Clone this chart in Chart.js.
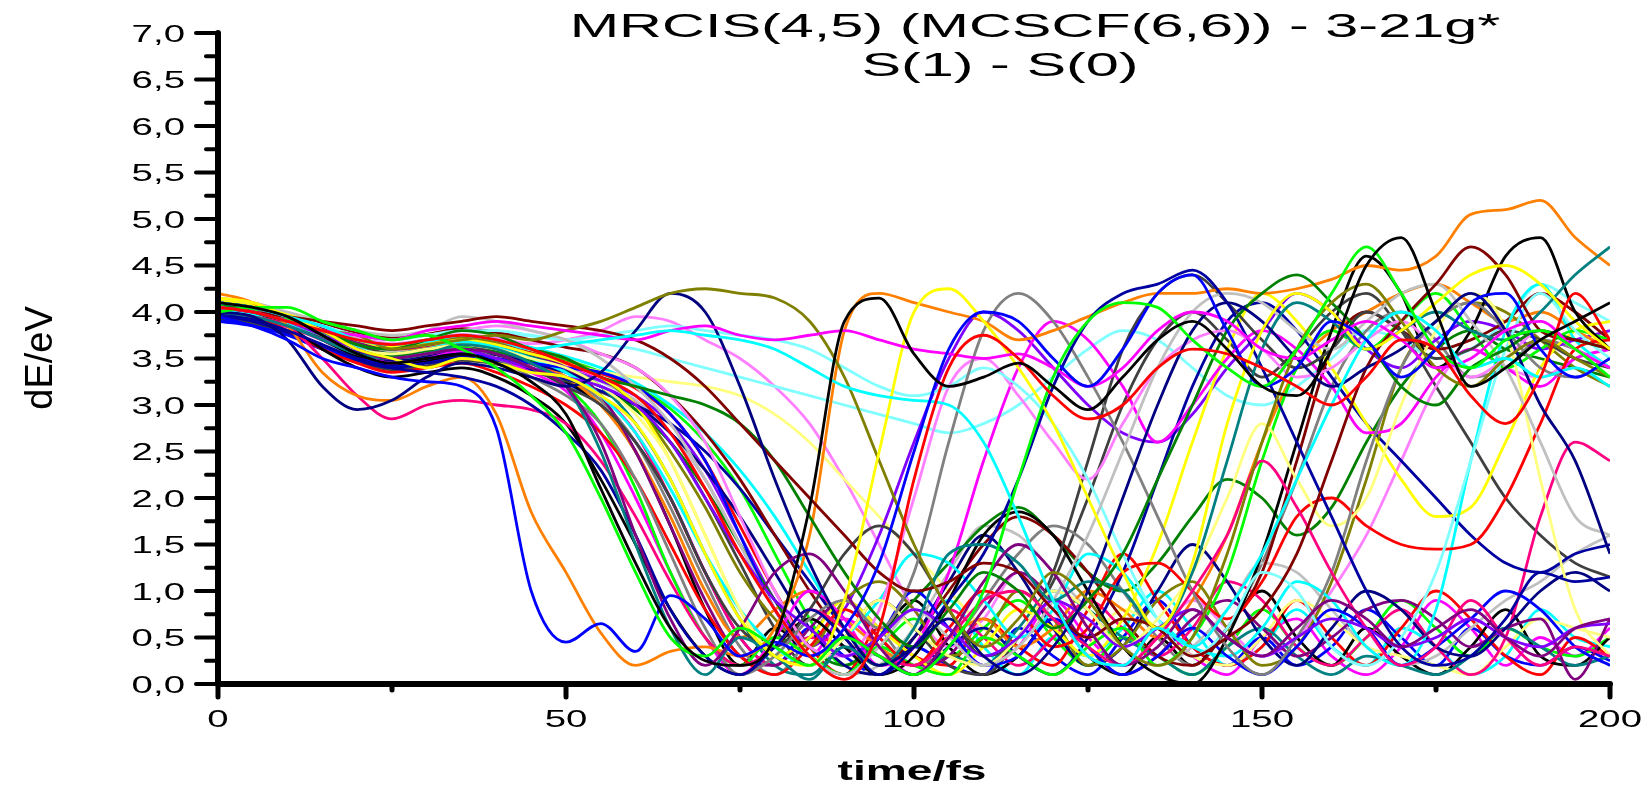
<!DOCTYPE html>
<html>
<head>
<meta charset="utf-8">
<script src="https://cdn.jsdelivr.net/npm/chart.js@4"></script>
<style>
  body { margin: 0; background: #fff; }
  #wrap { width: 1648px; height: 785px; }
</style>
</head>
<body>
<div id="wrap"><canvas id="myChart"></canvas></div>
<script>
// time axis (fs) shared by every trajectory
const timeFs = [0, 5, 10, 15, 20, 25, 30, 35, 40, 45,
    50, 55, 60, 65, 70, 75, 80, 85, 90, 95,
    100, 105, 110, 115, 120, 125, 130, 135, 140, 145,
    150, 155, 160, 165, 170, 175, 180, 185, 190, 195,
    200];

const yTickLabels = ['0,0', '0,5', '1,0', '1,5', '2,0', '2,5', '3,0', '3,5', '4,0', '4,5', '5,0', '5,5', '6,0', '6,5', '7,0'];
const xTickLabels = ['0', '50', '100', '150', '200'];

// S1-S0 gap (eV) of each trajectory
const traj01 = [4.10,4.05,3.95,3.75,3.55,3.45,3.50,3.55,3.45,3.25, 2.90,2.10,1.30,0.60,0.25,0.20,0.50,1.90,3.90,4.15, 3.55,3.20,3.30,3.45,3.20,2.95,3.30,3.70,3.90,3.60, 3.20,3.10,3.60,4.50,4.80,4.00,3.20,3.40,3.70,3.90, 4.10];
const traj02 = [4.05,4.00,3.90,3.80,3.70,3.65,3.70,3.75,3.70,3.60, 3.45,3.30,3.10,2.70,2.10,1.40,0.80,0.30,0.05,0.60, 2.20,3.40,3.75,3.50,3.10,2.85,3.00,3.40,3.60,3.55, 3.40,3.20,3.00,3.30,3.70,3.60,3.10,2.80,3.30,4.20, 3.70];
const traj03 = [4.00,4.05,4.05,3.90,3.80,3.70,3.75,3.60,3.40,3.10, 2.70,2.00,1.20,0.50,0.30,0.60,0.40,0.20,0.50,0.30, 0.10,0.40,1.00,2.20,3.30,3.90,4.10,4.05,3.70,3.40, 3.20,3.60,4.20,4.70,4.20,3.60,3.40,3.70,3.80,3.60, 3.30];
const traj04 = [3.95,3.85,3.70,3.50,3.40,3.30,3.25,3.20,2.75,1.00, 0.45,0.65,0.35,0.95,0.70,0.30,0.45,0.30,0.60,1.30, 2.50,3.60,4.00,3.90,3.50,3.20,3.60,4.20,4.40,3.80, 3.20,3.40,3.90,3.70,3.30,3.60,4.10,4.20,3.60,3.30, 3.50];
const traj05 = [4.10,4.05,3.95,3.85,3.70,3.65,3.70,3.75,3.70,3.60, 3.65,3.70,3.75,3.80,3.75,3.70,3.60,3.40,3.20,3.10, 3.05,3.00,2.60,1.80,0.90,0.30,0.20,0.60,0.40,0.80, 1.40,2.20,3.00,3.70,4.00,3.80,3.40,3.50,3.30,3.40, 3.20];
const traj06 = [4.05,4.00,3.90,3.80,3.75,3.70,3.80,3.85,3.90,3.85, 3.80,3.75,3.70,3.80,3.85,3.75,3.70,3.75,3.80,3.70, 3.60,3.55,3.50,3.55,3.40,3.20,3.40,3.80,4.00,3.90, 3.60,3.50,3.70,3.90,3.70,3.40,3.50,3.80,3.90,3.60, 3.40];
const traj07 = [4.15,4.10,3.95,3.80,3.60,3.50,3.40,3.50,3.45,3.35, 3.30,3.10,2.80,2.20,1.40,0.70,0.30,0.20,0.90,2.50, 4.00,4.25,3.90,3.40,2.80,2.00,1.20,0.60,1.30,2.80, 3.80,4.20,4.00,3.60,3.80,4.10,4.40,4.50,4.30,3.90, 3.60];
const traj08 = [4.05,4.00,3.90,3.80,3.75,3.60,3.65,3.70,3.75,3.70, 3.80,3.90,4.05,4.20,4.25,4.20,4.15,3.90,3.30,2.40, 1.50,0.80,0.40,0.70,1.20,0.90,0.40,0.20,0.50,1.40, 2.60,3.60,4.10,4.30,3.90,3.40,3.20,3.50,3.70,3.50, 3.30];
const traj09 = [4.00,3.95,3.70,3.20,2.95,3.05,3.30,3.45,3.40,3.30, 3.20,3.35,3.80,4.20,4.00,3.20,2.20,1.30,0.60,0.20, 0.40,0.70,0.30,0.10,0.40,1.00,2.00,3.00,3.80,4.10, 3.90,3.50,3.20,3.40,3.60,3.90,4.20,3.80,3.00,2.40, 1.40];
const traj10 = [4.10,4.05,3.95,3.80,3.60,3.50,3.55,3.60,3.55,3.40, 3.20,2.60,1.60,0.70,0.20,0.60,1.20,1.40,1.00,0.40, 0.10,0.50,1.10,1.50,1.20,0.60,0.20,0.40,0.80,0.50, 0.30,0.60,0.90,0.70,0.40,0.60,0.80,0.50,0.30,0.60, 0.70];
const traj11 = [4.05,4.00,3.95,3.90,3.85,3.80,3.85,3.90,3.95,3.90, 3.85,3.80,3.70,3.50,3.20,2.80,2.40,2.00,1.60,1.20, 1.00,1.10,1.30,1.20,0.80,0.50,0.70,0.60,0.30,0.50, 0.80,1.40,2.40,3.40,3.90,4.30,4.70,4.40,3.80,3.70, 3.60];
const traj12 = [4.10,4.00,3.90,3.80,3.65,3.60,3.70,3.80,3.75,3.60, 3.50,3.30,3.20,3.10,3.00,2.80,2.40,1.80,1.20,0.70, 0.40,0.80,1.20,1.00,0.60,0.90,1.40,2.20,3.00,3.80, 4.20,4.40,4.10,3.70,3.20,3.00,3.40,3.60,3.80,3.70, 3.60];
const traj13 = [4.00,3.95,3.85,3.70,3.55,3.50,3.55,3.65,3.60,3.45, 3.20,2.50,1.50,0.60,0.10,0.50,0.30,0.05,0.40,0.20, 0.60,1.40,1.50,1.30,0.90,1.10,1.00,0.60,1.20,2.40, 3.60,4.10,3.90,3.60,3.80,4.00,3.80,3.70,4.00,4.40, 4.70];
const traj14 = [3.98,3.92,3.80,3.65,3.50,3.40,3.35,3.30,3.20,3.00, 2.70,2.30,1.60,0.80,0.30,0.10,0.40,0.80,0.50,0.10, 0.40,0.90,1.40,2.20,3.20,3.90,4.20,4.30,4.45,4.10, 3.40,2.60,1.80,1.00,0.40,0.20,0.30,0.70,1.20,1.10, 1.15];
const traj15 = [4.20,4.10,3.85,3.35,3.10,3.05,3.20,3.30,2.90,1.85, 1.20,0.55,0.20,0.35,0.40,0.30,0.60,1.60,3.80,4.20, 4.10,4.00,3.90,3.70,3.80,3.95,4.10,4.20,4.20,4.25, 4.20,4.25,4.35,4.50,4.45,4.60,5.05,5.10,5.20,4.80, 4.50];
const traj16 = [4.05,4.00,3.90,3.75,3.60,3.50,3.55,3.60,3.50,3.40, 3.30,3.20,3.00,2.60,2.00,1.40,0.90,0.60,0.30,0.50, 0.80,0.60,0.30,0.50,0.90,0.70,0.40,0.60,0.80,0.50, 0.30,0.50,0.70,0.60,0.40,0.50,0.70,0.50,0.40,0.60, 0.65];
const traj17 = [4.00,3.95,3.85,3.50,3.10,2.85,3.00,3.05,3.00,2.95, 2.80,2.40,1.80,1.10,0.50,0.20,0.40,0.80,0.60,0.30, 0.20,0.50,0.90,1.00,0.70,0.40,0.20,0.50,1.00,1.60, 2.40,1.90,1.20,0.60,0.20,0.40,0.90,0.50,0.20,0.40, 0.30];
const traj18 = [4.15,4.10,4.00,3.90,3.80,3.75,3.80,3.95,3.90,3.80, 3.70,3.50,3.20,2.80,2.20,1.50,0.80,0.30,0.10,0.40, 0.80,0.50,0.20,0.40,0.90,1.60,2.50,3.40,4.00,4.20, 4.10,3.80,3.60,3.90,4.20,4.30,3.90,3.40,2.60,1.80, 1.60];
const traj19 = [4.10,4.05,3.90,3.75,3.60,3.50,3.55,3.60,3.50,3.30, 3.10,2.80,2.20,1.40,0.60,0.10,0.30,0.70,0.90,0.60, 1.20,2.60,3.80,4.20,3.90,3.30,2.60,1.80,1.00,0.40, 0.10,0.50,1.20,2.40,3.40,3.90,4.10,3.80,3.40,3.30, 3.50];
const traj20 = [4.05,4.00,3.90,3.75,3.60,3.55,3.60,3.65,3.60,3.50, 3.40,3.20,2.90,2.40,1.60,0.80,0.30,0.20,0.50,0.90, 0.60,0.30,0.20,0.50,1.00,0.80,0.40,0.70,1.20,2.00, 2.80,2.20,1.70,2.00,3.00,3.80,4.20,3.80,2.20,0.80, 0.30];
const traj21 = [4.10,4.05,3.95,3.85,3.75,3.70,3.75,3.80,3.80,3.75, 3.70,3.75,3.80,3.85,3.80,3.75,3.70,3.60,3.40,3.20, 3.10,3.20,3.40,3.20,2.80,2.20,1.40,0.70,0.30,0.60, 1.20,1.00,0.40,0.20,0.50,1.20,2.40,3.60,4.20,3.80, 3.50];
const traj22 = [4.05,4.00,3.95,3.85,3.75,3.70,3.75,3.80,3.85,3.80, 3.70,3.55,3.40,3.10,2.60,1.80,1.00,0.40,0.30,0.80, 2.00,3.20,3.50,3.10,2.60,2.20,2.80,3.40,3.70,3.80, 3.60,3.30,3.40,3.70,3.90,3.60,3.30,3.50,3.80,3.60, 3.40];
const traj23 = [4.10,4.05,3.95,3.80,3.65,3.55,3.60,3.65,3.55,3.40, 3.20,3.00,2.60,2.00,1.20,0.60,0.40,0.80,1.40,1.70, 1.40,0.80,0.30,0.50,1.20,2.40,3.60,4.20,4.40,4.10, 3.70,3.40,3.60,4.00,3.80,3.50,3.60,3.80,3.70,3.50, 3.40];
const traj24 = [4.05,4.00,3.85,3.60,3.40,3.30,3.35,3.40,3.30,3.10, 2.80,2.20,1.50,0.80,0.30,0.10,0.40,0.70,0.40,0.10, 0.30,0.90,1.60,1.85,1.60,1.00,0.40,0.10,0.00,0.50, 1.40,2.60,3.80,4.60,4.20,3.40,3.80,4.60,4.80,4.00, 3.60];
const traj25 = [4.00,3.95,3.80,3.60,3.45,3.35,3.40,3.45,3.35,3.20, 3.00,2.70,2.20,1.50,0.80,0.30,0.10,0.40,0.80,0.50, 0.20,0.60,1.00,0.80,0.40,0.60,1.20,1.30,1.00,0.70, 1.10,1.80,2.00,1.70,1.50,1.45,1.50,2.00,2.80,3.60, 3.70];
const traj26 = [4.08,4.02,3.92,3.75,3.60,3.50,3.55,3.62,3.55,3.40, 3.20,2.80,2.10,1.20,0.50,0.20,0.50,0.30,0.10,0.40, 0.20,0.10,0.50,0.30,0.10,0.40,0.60,0.20,0.50,1.20, 2.40,3.40,3.80,3.60,3.90,4.20,3.80,3.40,3.60,3.80, 3.70];
const traj27 = [3.90,3.85,3.75,3.60,3.50,3.45,3.50,3.55,3.50,3.45, 3.40,3.35,3.20,2.90,2.40,1.60,0.80,0.30,0.10,0.50, 1.00,0.60,0.20,0.30,0.70,0.40,0.10,0.30,0.60,0.30, 0.10,0.40,0.80,0.60,0.20,0.40,0.70,1.00,0.80,0.40, 0.20];
const traj28 = [4.02,3.97,3.88,3.75,3.62,3.55,3.60,3.68,3.62,3.50, 3.35,3.10,2.70,2.10,1.40,0.80,0.40,0.20,0.50,0.90, 1.40,1.30,0.90,0.50,0.80,1.40,1.20,0.70,0.40,0.30, 0.60,1.10,0.90,0.40,0.20,0.80,2.40,3.80,4.30,3.70, 3.40];
const traj29 = [4.00,3.95,3.85,3.70,3.55,3.45,3.50,3.58,3.50,3.35, 3.15,2.70,2.00,1.20,0.50,0.10,0.50,1.00,0.70,0.20, 0.40,1.20,2.40,3.40,3.90,3.70,3.20,2.60,3.00,3.50, 3.80,3.60,3.20,2.70,2.80,3.30,3.60,3.40,3.20,3.50, 3.60];
const traj30 = [4.12,4.08,3.98,3.85,3.70,3.62,3.65,3.70,3.65,3.55, 3.45,3.30,3.00,2.40,1.60,0.80,0.30,0.50,0.90,0.60, 0.30,0.10,0.40,0.80,0.60,0.30,0.70,1.50,2.60,3.60, 4.20,3.90,3.40,2.80,2.20,1.80,1.90,2.60,3.40,3.80, 3.90];
const traj31 = [4.05,4.00,3.92,3.80,3.70,3.62,3.65,3.72,3.68,3.60, 3.50,3.30,3.00,2.50,1.90,1.20,0.70,0.40,0.90,1.10, 0.80,0.30,0.50,1.00,0.70,0.20,0.40,0.90,1.10,0.60, 0.20,0.40,1.10,2.20,3.40,3.90,4.10,4.00,3.70,3.40, 3.20];
const traj32 = [4.02,3.96,3.86,3.70,3.56,3.48,3.52,3.58,3.54,3.45, 3.35,3.20,3.00,2.70,2.30,1.80,1.20,0.60,0.20,0.10, 0.50,1.10,1.60,1.20,0.60,0.20,0.40,1.00,1.50,1.10, 0.50,0.20,0.60,1.00,0.80,0.40,0.30,0.60,1.00,1.20, 1.00];
const traj33 = [4.08,4.03,3.94,3.82,3.68,3.60,3.64,3.70,3.66,3.55, 3.40,3.10,2.50,1.70,0.90,0.30,0.20,0.60,0.90,0.50, 0.20,0.30,0.80,1.20,0.90,0.40,0.10,0.30,0.70,0.90, 0.60,0.30,0.50,0.80,0.90,0.70,0.40,0.60,0.70,0.05, 0.70];
const traj34 = [4.10,4.06,3.98,3.88,3.78,3.72,3.76,3.82,3.78,3.70, 3.62,3.55,3.40,3.10,2.70,2.20,1.60,1.00,0.50,0.20, 0.50,1.00,1.50,1.80,1.60,1.20,0.70,0.30,0.20,0.60, 1.20,2.40,3.60,4.00,3.80,3.60,3.70,3.90,4.20,4.00, 3.70];
const traj35 = [4.04,3.98,3.88,3.74,3.60,3.52,3.58,3.64,3.58,3.48, 3.36,3.20,2.95,2.60,2.10,1.50,0.90,0.40,0.20,0.50, 0.90,1.30,1.70,1.90,1.60,1.20,1.00,1.30,1.80,2.20, 2.00,1.60,1.90,2.60,3.20,3.60,3.80,3.60,3.50,3.40, 3.30];
const traj36 = [4.06,4.00,3.90,3.76,3.62,3.55,3.60,3.66,3.62,3.52, 3.40,3.20,2.80,2.20,1.40,0.70,0.20,0.10,0.40,0.30, 0.10,0.30,0.20,0.60,1.00,0.80,0.50,0.30,0.10,0.40, 0.60,0.30,0.10,0.30,0.20,0.10,0.30,0.60,0.40,0.20, 0.30];
const traj37 = [3.96,3.90,3.78,3.62,3.48,3.40,3.45,3.50,3.46,3.38, 3.28,3.15,3.00,2.80,2.50,2.10,1.60,1.10,0.60,0.30, 0.10,0.40,0.60,0.30,0.10,0.50,1.20,2.20,3.20,3.90, 4.10,3.80,3.30,2.80,2.40,2.00,1.60,1.30,1.20,1.40, 1.50];
const traj38 = [4.15,4.10,3.98,3.85,3.70,3.60,3.62,3.68,3.60,3.48, 3.30,3.00,2.50,1.80,1.00,0.50,0.80,1.00,0.70,0.40, 0.20,0.50,0.70,0.40,0.60,1.00,0.80,0.50,0.90,1.60, 2.60,3.40,3.80,4.00,4.20,4.30,4.10,3.90,4.00,3.80, 3.60];
const traj39 = [4.02,3.96,3.86,3.72,3.58,3.50,3.54,3.60,3.56,3.48, 3.38,3.26,3.10,2.80,2.30,1.60,0.90,0.40,0.80,1.60, 2.60,3.50,4.00,3.80,3.40,3.00,2.70,2.60,2.90,3.40, 3.80,4.20,4.00,3.60,3.40,3.70,3.90,3.80,3.60,3.70, 3.80];
const traj40 = [4.00,3.94,3.84,3.70,3.56,3.48,3.52,3.58,3.54,3.44, 3.30,3.10,2.70,2.00,1.20,0.50,0.20,0.50,0.40,0.10, 0.40,0.80,0.50,0.20,0.50,0.90,0.60,0.30,0.60,1.10, 0.90,0.40,0.20,0.50,0.80,0.40,0.10,0.50,1.80,2.60, 2.40];
const traj41 = [4.10,4.04,3.94,3.80,3.66,3.58,3.62,3.68,3.62,3.52, 3.40,3.25,3.05,2.70,2.20,1.50,0.80,0.30,0.10,0.20, 0.60,1.20,1.70,1.60,1.20,0.80,0.40,0.20,0.40,0.80, 1.30,1.20,0.80,0.40,0.20,0.30,0.60,0.90,1.10,1.40, 1.60];
const traj42 = [4.06,4.00,3.90,3.76,3.62,3.54,3.58,3.64,3.58,3.46, 3.30,3.05,2.60,1.90,1.10,0.40,0.10,0.50,0.90,0.60, 0.20,0.40,0.90,1.40,1.70,1.50,1.00,0.50,0.20,0.60, 1.30,2.20,3.20,3.80,4.00,3.70,3.30,3.40,3.70,3.60, 3.40];
const traj43 = [4.08,4.02,3.92,3.78,3.64,3.56,3.60,3.66,3.60,3.52, 3.44,3.36,3.30,3.25,3.20,3.10,2.90,2.60,2.20,1.80, 1.40,1.00,0.60,0.30,0.10,0.40,0.80,0.60,0.30,0.20, 0.50,0.90,0.70,0.40,0.30,0.20,0.10,0.40,0.70,0.60, 0.50];
const traj44 = [4.02,3.98,3.90,3.82,3.76,3.72,3.76,3.80,3.78,3.74, 3.70,3.66,3.60,3.50,3.40,3.30,3.20,3.10,3.00,2.90, 2.80,2.70,2.80,3.00,3.30,3.60,3.80,3.70,3.40,3.10, 3.00,3.20,3.50,3.80,3.70,3.50,3.60,3.90,4.30,4.10, 3.90];
const traj45 = [4.00,3.96,3.90,3.80,3.72,3.66,3.70,3.76,3.72,3.66, 3.70,3.80,3.95,3.90,3.70,3.50,3.20,2.80,2.20,1.50, 0.80,0.40,0.70,1.20,0.80,0.30,0.20,0.50,0.90,0.60, 0.30,0.50,1.00,1.60,2.40,3.20,3.60,3.40,3.30,3.50, 3.60];
const traj46 = [3.94,3.88,3.76,3.60,3.46,3.38,3.42,3.48,3.44,3.36, 3.26,3.14,2.95,2.60,2.00,1.30,0.60,0.20,0.50,0.90, 0.60,0.20,0.10,0.50,1.10,2.00,3.00,3.70,4.00,3.70, 3.30,3.60,4.00,4.20,3.80,3.20,2.60,2.00,1.60,1.30, 1.15];
const traj47 = [4.06,4.00,3.88,3.70,3.52,3.44,3.48,3.54,3.50,3.40, 3.25,3.00,2.50,1.70,0.80,0.20,0.60,0.30,0.10,0.50, 0.90,0.40,0.10,0.30,0.70,0.30,0.10,0.50,0.20,0.60, 1.00,0.50,0.20,0.60,0.30,0.10,0.40,0.80,0.30,0.20, 0.50];
const traj48 = [4.12,4.06,3.96,3.82,3.68,3.60,3.64,3.70,3.66,3.56, 3.46,3.34,3.18,2.90,2.40,1.70,1.00,0.40,0.10,0.60, 0.30,0.20,0.70,0.40,0.20,0.80,1.40,0.90,0.40,0.20, 0.40,0.90,0.50,0.20,0.60,1.00,0.70,0.30,0.10,0.50, 0.30];
const traj49 = [4.00,3.94,3.86,3.74,3.62,3.56,3.60,3.66,3.64,3.56, 3.48,3.36,3.20,2.96,2.60,2.10,1.40,0.70,0.20,0.40, 0.70,0.30,0.60,0.90,0.50,0.20,0.50,0.30,0.10,0.40, 0.80,0.40,0.20,0.50,0.90,0.60,0.30,0.60,0.40,0.30, 0.50];
const traj50 = [3.92,3.86,3.76,3.62,3.50,3.42,3.46,3.52,3.48,3.38, 3.24,3.00,2.60,2.00,1.20,0.50,0.20,0.60,0.30,0.10, 0.40,0.20,0.10,0.60,0.30,0.10,0.50,0.90,0.40,0.20, 0.50,0.20,0.40,0.80,0.50,0.20,0.60,0.30,0.20,0.40, 0.25];
const traj51 = [4.08,4.04,3.94,3.82,3.70,3.64,3.68,3.74,3.70,3.62, 3.52,3.40,3.24,3.00,2.70,2.30,1.80,1.20,0.60,0.20, 0.50,0.90,0.40,0.10,0.50,0.30,0.60,1.00,0.60,0.20, 0.40,0.80,0.40,0.20,0.60,0.40,0.10,0.30,0.80,0.50, 0.40];
const traj52 = [4.04,3.98,3.90,3.78,3.66,3.58,3.62,3.68,3.64,3.54, 3.42,3.26,3.04,2.70,2.20,1.50,0.80,0.30,0.70,0.40, 0.10,0.50,0.20,0.40,0.90,0.50,0.20,0.60,0.30,0.10, 0.50,0.70,0.30,0.10,0.40,0.90,0.60,0.20,0.50,0.30, 0.60];

// Origin default colour cycle
const lineColors = ['#000000', '#ff0000', '#00ff00', '#0000ff', '#00ffff', '#ff00ff', '#ffff00', '#808000',
    '#000080', '#800080', '#800000', '#008000', '#008080', '#0000a0', '#ff8000', '#8000ff',
    '#ff0080', '#c0c0c0', '#808080', '#ffff80', '#80ffff', '#ff80ff', '#404040'];

const trajectories = [traj01, traj02, traj03, traj04, traj05, traj06, traj07, traj08, traj09, traj10,
    traj11, traj12, traj13, traj14, traj15, traj16, traj17, traj18, traj19, traj20,
    traj21, traj22, traj23, traj24, traj25, traj26, traj27, traj28, traj29, traj30,
    traj31, traj32, traj33, traj34, traj35, traj36, traj37, traj38, traj39, traj40,
    traj41, traj42, traj43, traj44, traj45, traj46, traj47, traj48, traj49, traj50,
    traj51, traj52];

function strokeLine(ctx, x1, y1, x2, y2) {
    ctx.beginPath();
    ctx.moveTo(x1, y1);
    ctx.lineTo(x2, y2);
    ctx.stroke();
}

// the original text is stretched sideways, so draw it scaled in x
function wideText(ctx, text, x, y, font, sx, align) {
    ctx.save();
    ctx.translate(x, y);
    ctx.scale(sx, 1);
    ctx.font = font;
    ctx.textAlign = align;
    ctx.textBaseline = 'alphabetic';
    ctx.fillText(text, 0, 0);
    ctx.restore();
}

const originFrame = {
    id: 'originFrame',
    afterDraw(chart) {
        const ctx = chart.ctx;
        const xs = chart.scales.x;
        const ys = chart.scales.y;
        const area = chart.chartArea;
        ctx.save();
        ctx.strokeStyle = '#000';
        ctx.fillStyle = '#000';
        ctx.lineCap = 'round';

        // axis lines
        ctx.lineWidth = 6;
        strokeLine(ctx, area.left, area.top, area.left, area.bottom);
        strokeLine(ctx, area.left, area.bottom, area.right, area.bottom);

        // y ticks: major every 0.5, minor in between
        ctx.lineWidth = 4;
        ys.ticks.forEach(function (t, i) {
            const y = ys.getPixelForValue(t.value);
            strokeLine(ctx, area.left - 22, y, area.left, y);
            if (i < ys.ticks.length - 1) {
                const ym = ys.getPixelForValue((t.value + ys.ticks[i + 1].value) / 2);
                strokeLine(ctx, area.left - 12, ym, area.left, ym);
            }
            wideText(ctx, yTickLabels[i], area.left - 33, y + 8.5, '24px "Liberation Sans", Arial, sans-serif', 1.6, 'right');
        });

        // x ticks: major every 50 pointing down, minor small
        ctx.lineWidth = 5;
        xs.ticks.forEach(function (t, i) {
            const x = xs.getPixelForValue(t.value);
            strokeLine(ctx, x, area.bottom, x, area.bottom + 13);
            if (i < xs.ticks.length - 1) {
                const xm = xs.getPixelForValue((t.value + xs.ticks[i + 1].value) / 2);
                strokeLine(ctx, xm, area.bottom, xm, area.bottom + 6);
            }
            wideText(ctx, xTickLabels[i], x, 727, '24px "Liberation Sans", Arial, sans-serif', 1.6, 'center');
        });

        // axis titles
        wideText(ctx, 'time/fs', 912, 780, 'bold 28px "Liberation Sans", Arial, sans-serif', 1.65, 'center');
        ctx.save();
        ctx.translate(52, 358);
        ctx.rotate(-Math.PI / 2);
        ctx.font = '38px "Liberation Sans Narrow", "Liberation Sans", Arial, sans-serif';
        ctx.textAlign = 'center';
        ctx.textBaseline = 'alphabetic';
        ctx.fillText('dE/eV', 0, 0);
        ctx.restore();

        // title block
        wideText(ctx, 'MRCIS(4,5) (MCSCF(6,6)) - 3-21g*', 1035, 37, '33px "Liberation Sans", Arial, sans-serif', 1.8, 'center');
        wideText(ctx, 'S(1) - S(0)', 1000, 76, '33px "Liberation Sans", Arial, sans-serif', 1.8, 'center');
        ctx.restore();
    }
};

function drawChart() {
    const datasets = trajectories.map(function (vals, i) {
        return {
            data: vals.map(function (v, j) { return { x: timeFs[j], y: v }; }),
            borderColor: lineColors[i % lineColors.length],
            borderWidth: 2.8,
            pointRadius: 0,
            fill: false,
            cubicInterpolationMode: 'monotone'
        };
    });

    new Chart(document.getElementById('myChart').getContext('2d'), {
        type: 'line',
        data: { datasets: datasets },
        options: {
            responsive: true,
            maintainAspectRatio: false,
            animation: false,
            layout: { padding: { left: 0, right: 38, top: 33, bottom: 0 } },
            plugins: {
                legend: { display: false },
                tooltip: { enabled: false }
            },
            scales: {
                x: {
                    type: 'linear', min: 0, max: 200,
                    ticks: { display: false, stepSize: 50 },
                    grid: { display: false },
                    border: { display: false },
                    afterFit: function (s) { s.height = 101; }
                },
                y: {
                    min: 0, max: 7,
                    ticks: { display: false, stepSize: 0.5 },
                    grid: { display: false },
                    border: { display: false },
                    afterFit: function (s) { s.width = 218; }
                }
            }
        },
        plugins: [originFrame]
    });
}

drawChart();
</script>
</body>
</html>
